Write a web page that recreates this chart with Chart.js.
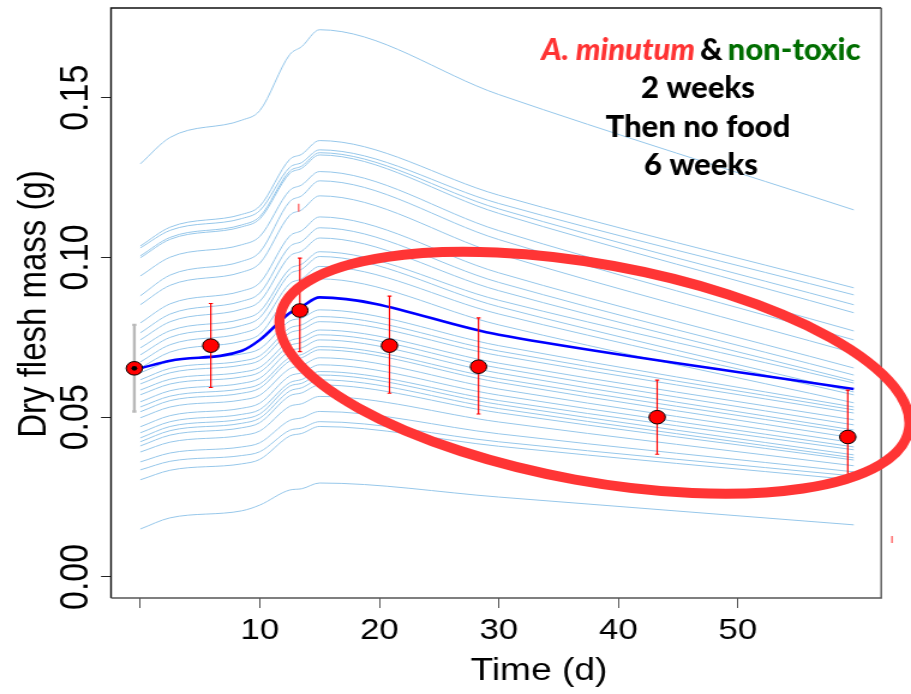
<!DOCTYPE html>
<html>
<head>
<meta charset="utf-8">
<script src="https://cdn.jsdelivr.net/npm/chart.js@4.4.1/dist/chart.umd.min.js"></script>
<style>
  html, body { margin: 0; padding: 0; background: #fff; overflow: hidden; }
  #grafico { display: block; }
</style>
</head>
<body>
<!-- the R picture was stretched sideways, so the bitmap is too (inline style so Chart.js keeps it) -->
<canvas id="grafico" width="759" height="694" style="width:911px;height:694px"></canvas>
<script>
"use strict";

// ---------- Data ----------
var curveDays = [0, 2.5, 8.5, 10, 12.5, 13.5, 15, 30, 59.7];
var meanMass = [0.0653, 0.0677, 0.0708, 0.0742, 0.0826, 0.0846, 0.0875, 0.0758, 0.0588];
var individualMass = [
  [0.1293, 0.1376, 0.1430, 0.1460, 0.1635, 0.1660, 0.1713, 0.1510, 0.1149],
  [0.1036, 0.1095, 0.1135, 0.1161, 0.1307, 0.1323, 0.1366, 0.1195, 0.0905],
  [0.1030, 0.1085, 0.1122, 0.1147, 0.1282, 0.1297, 0.1337, 0.1169, 0.0883],
  [0.1005, 0.1063, 0.1102, 0.1128, 0.1270, 0.1286, 0.1328, 0.1152, 0.0852],
  [0.0999, 0.1057, 0.1096, 0.1121, 0.1263, 0.1279, 0.1321, 0.1138, 0.0827],
  [0.0942, 0.1001, 0.1040, 0.1066, 0.1210, 0.1227, 0.1269, 0.1084, 0.0770],
  [0.0880, 0.0945, 0.0988, 0.1017, 0.1175, 0.1193, 0.1240, 0.1056, 0.0742],
  [0.0852, 0.0913, 0.0954, 0.0982, 0.1132, 0.1149, 0.1193, 0.1011, 0.0701],
  [0.0795, 0.0855, 0.0895, 0.0921, 0.1067, 0.1084, 0.1127, 0.0952, 0.0654],
  [0.0764, 0.0823, 0.0863, 0.0889, 0.1034, 0.1050, 0.1093, 0.0922, 0.0632],
  [0.0742, 0.0799, 0.0838, 0.0863, 0.1004, 0.1020, 0.1061, 0.0896, 0.0614],
  [0.0717, 0.0771, 0.0807, 0.0831, 0.0964, 0.0979, 0.1018, 0.0866, 0.0607],
  [0.0695, 0.0750, 0.0787, 0.0812, 0.0948, 0.0963, 0.1003, 0.0846, 0.0579],
  [0.0673, 0.0727, 0.0763, 0.0787, 0.0918, 0.0933, 0.0972, 0.0823, 0.0570],
  [0.0654, 0.0704, 0.0738, 0.0760, 0.0883, 0.0897, 0.0933, 0.0789, 0.0545],
  [0.0639, 0.0675, 0.0698, 0.0714, 0.0801, 0.0810, 0.0836, 0.0724, 0.0532],
  [0.0617, 0.0653, 0.0676, 0.0692, 0.0779, 0.0789, 0.0815, 0.0707, 0.0523],
  [0.0604, 0.0639, 0.0663, 0.0678, 0.0764, 0.0774, 0.0799, 0.0693, 0.0513],
  [0.0585, 0.0619, 0.0641, 0.0656, 0.0739, 0.0749, 0.0773, 0.0669, 0.0492],
  [0.0570, 0.0604, 0.0626, 0.0641, 0.0724, 0.0734, 0.0758, 0.0654, 0.0476],
  [0.0548, 0.0583, 0.0606, 0.0622, 0.0707, 0.0717, 0.0742, 0.0638, 0.0460],
  [0.0532, 0.0566, 0.0589, 0.0604, 0.0687, 0.0696, 0.0721, 0.0621, 0.0451],
  [0.0517, 0.0552, 0.0575, 0.0591, 0.0676, 0.0686, 0.0711, 0.0609, 0.0435],
  [0.0498, 0.0532, 0.0554, 0.0569, 0.0652, 0.0662, 0.0686, 0.0588, 0.0420],
  [0.0470, 0.0505, 0.0528, 0.0544, 0.0629, 0.0639, 0.0664, 0.0569, 0.0407],
  [0.0451, 0.0486, 0.0509, 0.0524, 0.0608, 0.0618, 0.0643, 0.0552, 0.0398],
  [0.0435, 0.0471, 0.0494, 0.0510, 0.0597, 0.0606, 0.0632, 0.0540, 0.0382],
  [0.0423, 0.0458, 0.0481, 0.0497, 0.0582, 0.0592, 0.0617, 0.0527, 0.0373],
  [0.0410, 0.0444, 0.0467, 0.0483, 0.0567, 0.0576, 0.0601, 0.0514, 0.0366],
  [0.0391, 0.0422, 0.0443, 0.0457, 0.0534, 0.0542, 0.0565, 0.0485, 0.0348],
  [0.0360, 0.0388, 0.0407, 0.0420, 0.0490, 0.0498, 0.0518, 0.0448, 0.0329],
  [0.0335, 0.0362, 0.0380, 0.0392, 0.0459, 0.0466, 0.0486, 0.0423, 0.0316],
  [0.0304, 0.0334, 0.0354, 0.0368, 0.0441, 0.0449, 0.0471, 0.0409, 0.0304],
  [0.0150, 0.0185, 0.0207, 0.0225, 0.0272, 0.0276, 0.0294, 0.0250, 0.0163]
];
var obsDays = [-0.5, 5.9, 13.35, 20.85, 28.3, 43.25, 59.2];
var obsMean = [0.0653, 0.0724, 0.0834, 0.0724, 0.0658, 0.0500, 0.0438];
var obsLow  = [0.0518, 0.0593, 0.0705, 0.0575, 0.0510, 0.0384, 0.0304];
var obsHigh = [0.0789, 0.0856, 0.0998, 0.0879, 0.0811, 0.0616, 0.0585];
var strayDays = [13.25, 62.9];
var strayLow  = [0.1143, 0.0106];
var strayHigh = [0.1168, 0.0128];
var xTicks = [0, 10, 20, 30, 40, 50];
var xTickLabels = ["", "10", "20", "30", "40", "50"];
var yTicks = [0, 0.05, 0.10, 0.15];
var yTickLabels = ["0.00", "0.05", "0.10", "0.15"];

(function () {
  var canvas = document.getElementById("grafico");
  var STRETCH = 911 / canvas.width;          // sideways stretch of the original picture
  var SANS = '"Liberation Sans", Arial, sans-serif';
  var NOTE = 'Lato, "Open Sans", sans-serif';
  var VERMELHO = "#ff0000";

  function pontos(xs, ys) { return xs.map(function (x, i) { return { x: x, y: ys[i] }; }); }

  // ---------- Datasets (index 0 is drawn last, on top) ----------
  var datasets = [
    { data: pontos(obsDays.slice(0, 1), obsMean.slice(0, 1)), showLine: false,
      pointRadius: 2.4, pointBackgroundColor: "#000", pointBorderWidth: 0 },
    { data: pontos(obsDays, obsMean), showLine: false, pointRadius: 6.8,
      pointBackgroundColor: VERMELHO, pointBorderColor: "#000", pointBorderWidth: 1 },
    { data: pontos(curveDays, meanMass), borderColor: "#0000ff", borderWidth: 2.6,
      pointRadius: 0, cubicInterpolationMode: "monotone" }
  ];
  individualMass.forEach(function (linha) {
    datasets.push({ data: pontos(curveDays, linha), borderColor: "#96c7ea", borderWidth: 1,
      pointRadius: 0, cubicInterpolationMode: "monotone" });
  });

  // ---------- Error bars, drawn just under the red points ----------
  function barra(ctx, sx, sy, d, lo, hi, cor, largura, cap) {
    var x = sx.getPixelForValue(d), y1 = sy.getPixelForValue(lo), y2 = sy.getPixelForValue(hi);
    ctx.strokeStyle = cor; ctx.lineWidth = largura;
    ctx.beginPath();
    ctx.moveTo(x, y1); ctx.lineTo(x, y2);
    if (cap) {
      ctx.moveTo(x - cap, y1); ctx.lineTo(x + cap, y1);
      ctx.moveTo(x - cap, y2); ctx.lineTo(x + cap, y2);
    }
    ctx.stroke();
  }
  var errorBars = {
    id: "errorBars",
    beforeDatasetDraw: function (chart, args) {
      if (args.index !== 1) return;
      var ctx = chart.ctx, sx = chart.scales.x, sy = chart.scales.y;
      ctx.save();
      obsDays.forEach(function (d, i) {
        if (i === 0) barra(ctx, sx, sy, d, obsLow[i], obsHigh[i], "#b8b8b8", 2.4, 1.7);
        else barra(ctx, sx, sy, d, obsLow[i], obsHigh[i], VERMELHO, 1.2, 1.7);
      });
      strayDays.forEach(function (d, i) { barra(ctx, sx, sy, d, strayLow[i], strayHigh[i], "#ff5050", 1.2, 0); });
      ctx.restore();
    }
  };

  // ---------- Box around the plot ----------
  var moldura = {
    id: "moldura",
    afterDatasetsDraw: function (chart) {
      var a = chart.chartArea, ctx = chart.ctx;
      ctx.save();
      ctx.lineWidth = 1.4;
      ctx.strokeStyle = "#111";
      ctx.beginPath(); ctx.moveTo(a.left, a.bottom); ctx.lineTo(a.left, a.top); ctx.lineTo(a.right, a.top); ctx.stroke();
      ctx.strokeStyle = "#555";
      ctx.beginPath(); ctx.moveTo(a.right, a.top); ctx.lineTo(a.right, a.bottom); ctx.lineTo(a.left, a.bottom); ctx.stroke();
      ctx.restore();
    }
  };

  // ---------- Axis text, note and the red ellipse ----------
  var textos = {
    id: "textos",
    afterDraw: function (chart) {
      var ctx = chart.ctx, sx = chart.scales.x, sy = chart.scales.y;
      ctx.save();
      ctx.fillStyle = "#000";
      ctx.textAlign = "center";
      ctx.textBaseline = "alphabetic";
      ctx.font = "29px " + SANS;
      xTicks.forEach(function (v, i) { ctx.fillText(xTickLabels[i], sx.getPixelForValue(v), 639); });
      ctx.font = "34px " + SANS;
      yTicks.forEach(function (v, i) {
        ctx.save(); ctx.translate(72.5, sy.getPixelForValue(v)); ctx.rotate(-Math.PI / 2);
        ctx.fillText(yTickLabels[i], 0, 0); ctx.restore();
      });
      ctx.font = "31px " + SANS;
      ctx.fillText("Time (d)", 449, 680);
      ctx.save(); ctx.translate(38, 304); ctx.rotate(-Math.PI / 2);
      ctx.font = "33px " + SANS; ctx.fillText("Dry flesh mass (g)", 0, 0); ctx.restore();

      // the note and ellipse were added on top of the stretched figure, so undo the stretch
      ctx.save();
      ctx.scale(1 / STRETCH, 1);
      var fItal = "italic 900 31px " + NOTE, fBold = "900 31px " + NOTE, gap = 5;
      ctx.font = fItal; var w1 = ctx.measureText("A. minutum").width;
      ctx.font = fBold; var w2 = ctx.measureText("&").width, w3 = ctx.measureText("non-toxic").width;
      var x0 = 701 - (w1 + w2 + w3 + 2 * gap) / 2;
      ctx.textAlign = "left";
      ctx.font = fItal; ctx.fillStyle = "#ff3333"; ctx.fillText("A. minutum", x0, 60);
      ctx.font = fBold; ctx.fillStyle = "#000"; ctx.fillText("&", x0 + w1 + gap, 60);
      ctx.fillStyle = "#006e00"; ctx.fillText("non-toxic", x0 + w1 + w2 + 2 * gap, 60);
      ctx.fillStyle = "#000"; ctx.textAlign = "center";
      ctx.fillText("2 weeks", 698, 98);
      ctx.fillText("Then no food", 698, 137);
      ctx.fillText("6 weeks", 701, 175);

      ctx.translate(sx.getPixelForValue(38) * STRETCH, sy.getPixelForValue(0.0639));
      ctx.rotate(0.179);
      ctx.strokeStyle = "#ff3535"; ctx.lineWidth = 10;
      ctx.beginPath(); ctx.ellipse(0, 0, 319.5, 108.5, 0, 0, Math.PI * 2); ctx.stroke();
      ctx.restore();
      ctx.restore();
    }
  };

  new Chart(canvas, {
    type: "line",
    data: { datasets: datasets },
    plugins: [errorBars, moldura, textos],
    options: {
      responsive: false, animation: false, devicePixelRatio: 1, events: [],
      layout: { padding: { top: 8, right: 24.8, left: 0, bottom: 0 } },
      plugins: { legend: { display: false }, tooltip: { enabled: false } },
      scales: {
        x: {
          type: "linear", min: -2.45, max: 62.0,
          afterBuildTicks: function (s) { s.ticks = xTicks.map(function (v) { return { value: v }; }); },
          afterFit: function (s) { s.height = 96; },
          ticks: { display: false },
          border: { display: false },
          grid: { drawOnChartArea: false, drawTicks: true, tickLength: 10, color: "#555", lineWidth: 1 }
        },
        y: {
          type: "linear", min: -0.0066, max: 0.1781,
          afterBuildTicks: function (s) { s.ticks = yTicks.map(function (v) { return { value: v }; }); },
          afterFit: function (s) { s.width = 92.5; },
          ticks: { display: false },
          border: { display: false },
          grid: { drawOnChartArea: false, drawTicks: true, tickLength: 8.3, color: "#222", lineWidth: 1 }
        }
      }
    }
  });
})();
</script>
</body>
</html>
